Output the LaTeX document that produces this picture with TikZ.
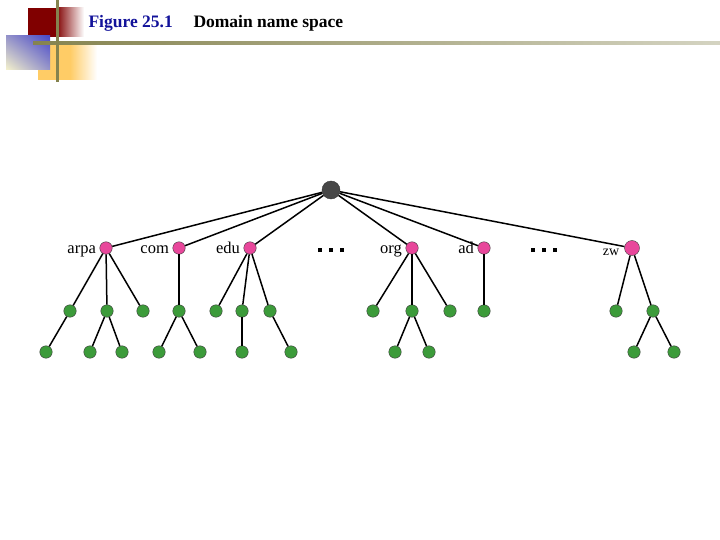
\documentclass[tikz,border=0pt]{standalone}
\usepackage{fontspec}
\setmainfont{Liberation Serif}
\usepackage{xcolor}
\usepackage{tikz}
\usetikzlibrary{positioning, shapes, calc, shadings}

\definecolor{hdrred}{HTML}{800000}
\definecolor{hdrorange}{HTML}{FFCC66}
\definecolor{hdrblue}{HTML}{4848C8}
\definecolor{hdrpale}{HTML}{F6F3CC}
\definecolor{hdrline}{HTML}{85834F}
\definecolor{figblue}{HTML}{12129A}
\definecolor{dompink}{HTML}{E8479B}
\definecolor{leafgreen}{HTML}{3C9B3A}

\begin{document}
\begin{tikzpicture}[x=1pt, y=-1pt,
    rootnode/.style={circle, draw=black!80, fill=black!72, minimum size=18pt, inner sep=0pt},
    dom/.style={circle, draw=black!75, fill=dompink, minimum size=12.5pt, inner sep=0pt},
    leaf/.style={circle, draw=black!75, fill=leafgreen, minimum size=12.5pt, inner sep=0pt},
    lbl/.style={font=\fontsize{16.5}{18}\selectfont, inner sep=0pt, anchor=base east},
    edge/.style={line width=1.5pt}]
  \useasboundingbox (0,0) rectangle (720,540);

  % slide header
  \fill[hdrred] (28,8) rectangle (56,37);
  \shade[left color=hdrred, right color=white] (56,8) rectangle (84,37);
  \fill[hdrorange] (38,42) rectangle (70,80);
  \shade[left color=hdrorange, right color=white] (70,42) rectangle (97,80);
  \shade[upper left=hdrblue!55!hdrpale, upper right=hdrblue, lower left=hdrpale, lower right=hdrblue!55!hdrpale] (6,36) rectangle (50,70);
  \shade[left color=hdrline, right color=hdrline!35] (33,41.5) rectangle (720,44.5);
  \fill[hdrline] (55.5,0) rectangle (58.5,82);
  \node[anchor=base west, text=figblue, font=\fontsize{17.5}{20}\selectfont\bfseries] (fig) at (85,28) {Figure 25.1};
  \node[anchor=base west, font=\fontsize{17.5}{20}\selectfont\bfseries] (cap) at (190,28) {Domain name space};

  % root and top level domains
  \node[rootnode] (root) at (331,190) {};
  \node[dom] (arpa) at (106,248) {};
  \node[dom] (com) at (179,248) {};
  \node[dom] (edu) at (250,248) {};
  \node[dom] (org) at (412,248) {};
  \node[dom] (ad) at (484,248) {};
  \node[dom, minimum size=15pt] (zw) at (632,248) {};
  \node[inner sep=0pt] (dotsA) at (331,250) {\rule{4pt}{4pt}\hspace{7pt}\rule{4pt}{4pt}\hspace{7pt}\rule{4pt}{4pt}};
  \node[inner sep=0pt] (dotsB) at (544,250) {\rule{4pt}{4pt}\hspace{7pt}\rule{4pt}{4pt}\hspace{7pt}\rule{4pt}{4pt}};

  \foreach \n in {arpa, com, edu, org, ad}
    \node[lbl] at ([xshift=-3.5pt, yshift=-5pt]\n.west) {\n};
  \node[lbl, font=\fontsize{14}{16}\selectfont] at ([xshift=-5pt, yshift=-7pt]zw.west) {zw};

  % second level
  \node[leaf] (a1) at (70,311) {};
  \node[leaf] (a2) at (107,311) {};
  \node[leaf] (a3) at (143,311) {};
  \node[leaf] (c1) at (179,311) {};
  \node[leaf] (e1) at (216,311) {};
  \node[leaf] (e2) at (242,311) {};
  \node[leaf] (e3) at (270,311) {};
  \node[leaf] (o1) at (373,311) {};
  \node[leaf] (o2) at (412,311) {};
  \node[leaf] (o3) at (450,311) {};
  \node[leaf] (d1) at (484,311) {};
  \node[leaf] (z1) at (616,311) {};
  \node[leaf] (z2) at (653,311) {};

  % third level
  \node[leaf] (a11) at (46,352) {};
  \node[leaf] (a21) at (90,352) {};
  \node[leaf] (a22) at (122,352) {};
  \node[leaf] (c11) at (159,352) {};
  \node[leaf] (c12) at (200,352) {};
  \node[leaf] (e21) at (242,352) {};
  \node[leaf] (e31) at (291,352) {};
  \node[leaf] (o21) at (395,352) {};
  \node[leaf] (o22) at (429,352) {};
  \node[leaf] (z21) at (634,352) {};
  \node[leaf] (z22) at (674,352) {};

  \foreach \a/\b in {root/arpa, root/com, root/edu, root/org, root/ad, root/zw,
      arpa/a1, arpa/a2, arpa/a3, com/c1, edu/e1, edu/e2, edu/e3,
      org/o1, org/o2, org/o3, ad/d1, zw/z1, zw/z2,
      a1/a11, a2/a21, a2/a22, c1/c11, c1/c12, e2/e21, e3/e31,
      o2/o21, o2/o22, z2/z21, z2/z22}
    \draw[edge] (\a) -- (\b);
\end{tikzpicture}
\end{document}
